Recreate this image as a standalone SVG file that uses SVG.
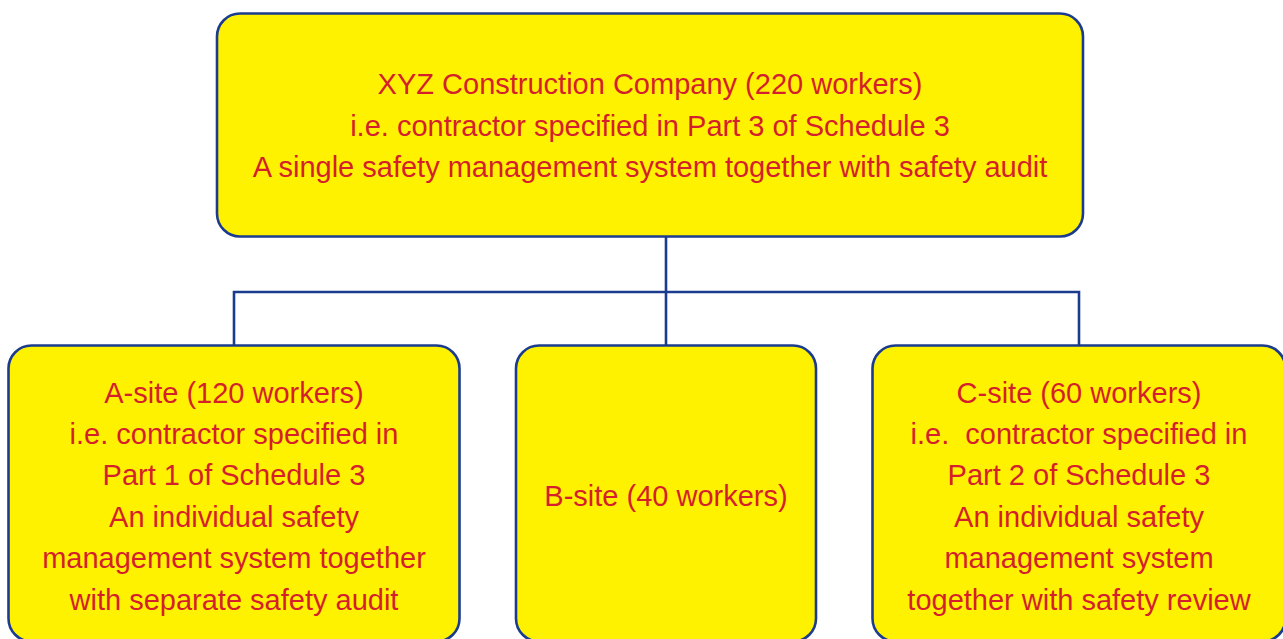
<svg xmlns="http://www.w3.org/2000/svg" width="1283" height="639" viewBox="0 0 1283 639">
<style>
.box{fill:#FFF200;stroke:#1B3C8E;stroke-width:2.6}
.t{font-family:"Liberation Sans",Arial,Helvetica,sans-serif;font-size:29px;fill:#D41F2C;text-anchor:middle;white-space:pre}
.c{fill:none;stroke:#1B3C8E;stroke-width:2.6}
</style>
<rect width="1283" height="639" fill="#FFFFFF"/>
<g id="connectors">
<path class="c" d="M666 237V345M234 345V292H1079V345"/>
</g>
<g id="node-top">
<rect class="box" x="217" y="13.5" width="866" height="223" rx="23"/>
<text class="t" x="650" y="94">XYZ Construction Company (220 workers)</text>
<text class="t" x="650" y="136">i.e. contractor specified in Part 3 of Schedule 3</text>
<text class="t" x="650" y="177">A single safety management system together with safety audit</text>
</g>
<g id="node-a">
<rect class="box" x="8.5" y="345.5" width="451" height="296" rx="23"/>
<text class="t" x="234" y="403">A-site (120 workers)</text>
<text class="t" x="234" y="444">i.e. contractor specified in</text>
<text class="t" x="234" y="485">Part 1 of Schedule 3</text>
<text class="t" x="234" y="527">An individual safety</text>
<text class="t" x="234" y="568">management system together</text>
<text class="t" x="234" y="610">with separate safety audit</text>
</g>
<g id="node-b">
<rect class="box" x="516" y="345.5" width="300" height="296" rx="23"/>
<text class="t" x="666" y="506">B-site (40 workers)</text>
</g>
<g id="node-c">
<rect class="box" x="872.5" y="345.5" width="413" height="296" rx="23"/>
<text class="t" x="1079" y="403">C-site (60 workers)</text>
<text class="t" x="1079" y="444">i.e.  contractor specified in</text>
<text class="t" x="1079" y="485">Part 2 of Schedule 3</text>
<text class="t" x="1079" y="527">An individual safety</text>
<text class="t" x="1079" y="568">management system</text>
<text class="t" x="1079" y="610">together with safety review</text>
</g>
</svg>
